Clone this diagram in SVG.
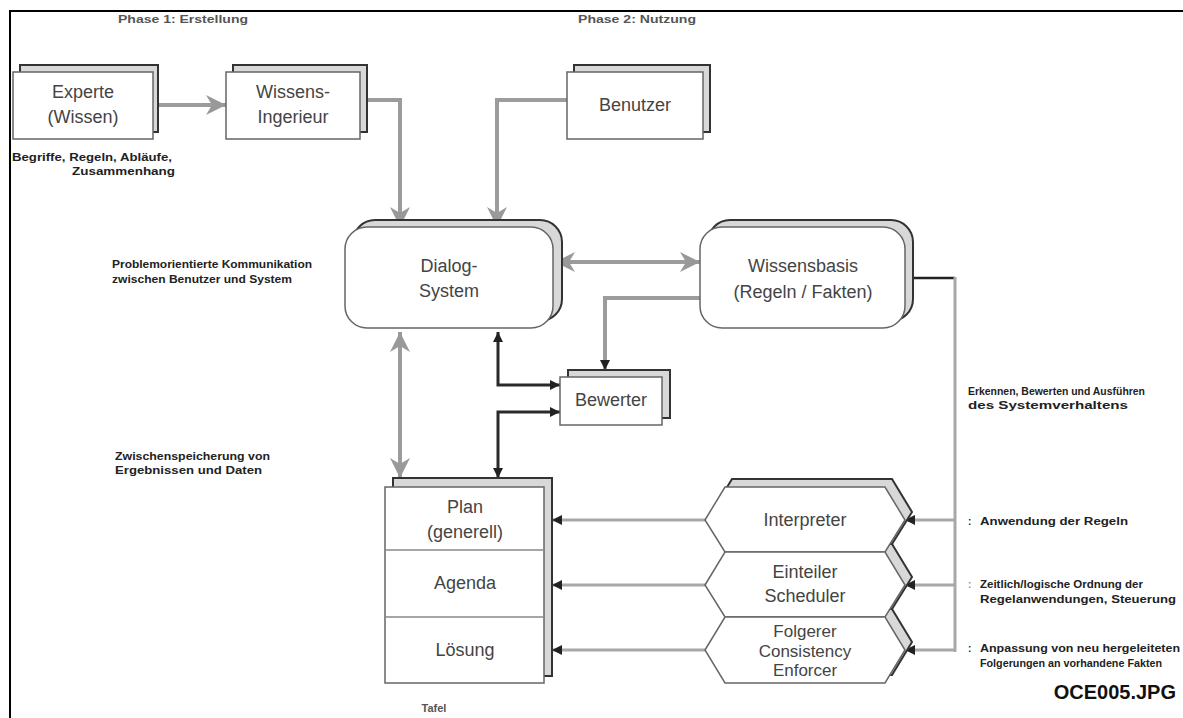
<svg xmlns="http://www.w3.org/2000/svg" width="1183" height="718" viewBox="0 0 1183 718">
<defs>
<style>
.back{fill:#d8d8d8;stroke:#333;stroke-width:2}
.front{fill:#fff;stroke:#666;stroke-width:1.5}
.lbl{font-family:"Liberation Sans",Arial,sans-serif;font-size:18px;fill:#444;text-anchor:middle}
.sm{font-family:"Liberation Sans",Arial,sans-serif;font-size:10px;font-weight:bold;fill:#222}
.g{fill:none;stroke:#9c9c9c;stroke-width:4}
.gt{fill:none;stroke:#a8a8a8;stroke-width:3}
.d{fill:none;stroke:#2a2a2a;stroke-width:3}
</style>
<marker id="ga" markerUnits="userSpaceOnUse" markerWidth="22" markerHeight="20" refX="20" refY="10" orient="auto-start-reverse"><path d="M0,0 L20,10 L0,20 L6,10 z" fill="#999"/></marker>
<marker id="da" markerUnits="userSpaceOnUse" markerWidth="11" markerHeight="10" refX="10" refY="5" orient="auto-start-reverse"><path d="M0,0 L10,5 L0,10 z" fill="#222"/></marker>
</defs>
<rect width="1183" height="718" fill="#fff"/>
<g id="frame">
<line x1="9" y1="11" x2="1183" y2="11" stroke="#000" stroke-width="2"/>
<line x1="10" y1="10" x2="10" y2="718" stroke="#000" stroke-width="2"/>
</g>
<g id="connectors">
<line class="g" x1="153" y1="105" x2="226" y2="105" marker-end="url(#ga)"/>
<path class="g" d="M360,100 H400 V227" marker-end="url(#ga)"/>
<path class="g" d="M567,100 H497 V227" marker-end="url(#ga)"/>
<line class="g" x1="555" y1="262" x2="700" y2="262" marker-start="url(#ga)" marker-end="url(#ga)"/>
<path class="g" d="M700,298 H605 V370" marker-end="url(#da)"/>
<line class="g" x1="400" y1="332" x2="400" y2="478" marker-start="url(#ga)" marker-end="url(#ga)"/>
<path class="d" d="M498,332 V385 H560" marker-start="url(#da)" marker-end="url(#da)"/>
<path class="d" d="M498,478 V412 H560" marker-start="url(#da)" marker-end="url(#da)"/>
<line x1="912" y1="278" x2="955" y2="278" stroke="#222" stroke-width="2.5"/>
<line class="gt" x1="955" y1="277" x2="955" y2="652"/>
<line class="gt" x1="955" y1="520" x2="905" y2="520" marker-end="url(#da)"/>
<line class="gt" x1="955" y1="585" x2="905" y2="585" marker-end="url(#da)"/>
<line class="gt" x1="955" y1="650" x2="905" y2="650" marker-end="url(#da)"/>
<line class="gt" x1="705" y1="520" x2="552" y2="520" marker-end="url(#da)"/>
<line class="gt" x1="705" y1="585" x2="552" y2="585" marker-end="url(#da)"/>
<line class="gt" x1="705" y1="650" x2="552" y2="650" marker-end="url(#da)"/>
</g>
<g id="experte">
<rect class="back" x="20" y="65" width="138" height="67"/>
<rect class="front" x="13" y="72" width="140" height="67"/>
<text class="lbl" x="83" y="98">Experte</text>
<text class="lbl" x="83" y="123">(Wissen)</text>
</g>
<g id="wissens-ingenieur">
<rect class="back" x="233" y="65" width="134" height="67"/>
<rect class="front" x="226" y="72" width="134" height="67"/>
<text class="lbl" x="293" y="98">Wissens-</text>
<text class="lbl" x="293" y="123">Ingerieur</text>
</g>
<g id="benutzer">
<rect class="back" x="574" y="65" width="136" height="67"/>
<rect class="front" x="567" y="72" width="136" height="67"/>
<text class="lbl" x="635" y="111">Benutzer</text>
</g>
<g id="dialog-system">
<rect class="back" x="353" y="220" width="209" height="101" rx="22"/>
<rect class="front" x="345" y="227" width="208" height="101" rx="22"/>
<text class="lbl" x="449" y="272">Dialog-</text>
<text class="lbl" x="449" y="297">System</text>
</g>
<g id="wissensbasis">
<rect class="back" x="708" y="220" width="205" height="101" rx="22"/>
<rect class="front" x="700" y="227" width="205" height="101" rx="22"/>
<text class="lbl" x="803" y="272">Wissensbasis</text>
<text class="lbl" x="803" y="298">(Regeln / Fakten)</text>
</g>
<g id="bewerter">
<rect class="back" x="568" y="370" width="102" height="48"/>
<rect class="front" x="560" y="377" width="102" height="48"/>
<text class="lbl" x="611" y="406">Bewerter</text>
</g>
<g id="tafel">
<rect class="back" x="393" y="478" width="159" height="198"/>
<rect class="front" x="385" y="487" width="159" height="196"/>
<line x1="385" y1="550" x2="544" y2="550" stroke="#888" stroke-width="1.5"/>
<line x1="385" y1="617" x2="544" y2="617" stroke="#888" stroke-width="1.5"/>
<text class="lbl" x="465" y="513">Plan</text>
<text class="lbl" x="465" y="538">(generell)</text>
<text class="lbl" x="465" y="589">Agenda</text>
<text class="lbl" x="465" y="656">Lösung</text>
<text class="sm" x="434" y="712" text-anchor="middle" style="font-size:11px;fill:#555">Tafel</text>
</g>
<g id="hex-backs">
<path class="back" d="M712,512 L732,479 L892,479 L912,512 L892,544 L732,544 Z"/>
<path class="back" d="M712,577 L732,544 L892,544 L912,577 L892,609 L732,609 Z"/>
<path class="back" d="M712,642 L732,609 L892,609 L912,642 L892,675 L732,675 Z"/>
</g>
<g id="interpreter">
<path class="front" d="M705,520 L725,487 L885,487 L905,520 L885,552 L725,552 Z"/>
<text class="lbl" x="805" y="526">Interpreter</text>
</g>
<g id="einteiler">
<path class="front" d="M705,585 L725,552 L885,552 L905,585 L885,617 L725,617 Z"/>
<text class="lbl" x="805" y="578">Einteiler</text>
<text class="lbl" x="805" y="602">Scheduler</text>
</g>
<g id="folgerer">
<path class="front" d="M705,650 L725,617 L885,617 L905,650 L885,683 L725,683 Z"/>
<text class="lbl" x="805" y="637" style="font-size:17px">Folgerer</text>
<text class="lbl" x="805" y="657" style="font-size:17px">Consistency</text>
<text class="lbl" x="805" y="676" style="font-size:17px">Enforcer</text>
</g>
<g id="notes">
<text class="sm" x="118" y="23" textLength="130" lengthAdjust="spacingAndGlyphs" style="fill:#555">Phase 1: Erstellung</text>
<text class="sm" x="578" y="23" textLength="118" lengthAdjust="spacingAndGlyphs" style="fill:#555">Phase 2: Nutzung</text>
<text class="sm" x="12" y="161" textLength="160" lengthAdjust="spacingAndGlyphs">Begriffe, Regeln, Abläufe,</text>
<text class="sm" x="72" y="175" textLength="103" lengthAdjust="spacingAndGlyphs">Zusammenhang</text>
<text class="sm" x="112" y="268" textLength="200" lengthAdjust="spacingAndGlyphs">Problemorientierte Kommunikation</text>
<text class="sm" x="112" y="283" textLength="180" lengthAdjust="spacingAndGlyphs">zwischen Benutzer und System</text>
<text class="sm" x="115" y="460" textLength="155" lengthAdjust="spacingAndGlyphs">Zwischenspeicherung von</text>
<text class="sm" x="115" y="474" textLength="147" lengthAdjust="spacingAndGlyphs">Ergebnissen und Daten</text>
<text class="sm" x="968" y="395" textLength="177" lengthAdjust="spacingAndGlyphs">Erkennen, Bewerten und Ausführen</text>
<text class="sm" x="968" y="409" textLength="160" lengthAdjust="spacingAndGlyphs">des Systemverhaltens</text>
<text class="sm" x="968" y="525">:</text>
<text class="sm" x="980" y="525" textLength="148" lengthAdjust="spacingAndGlyphs">Anwendung der Regeln</text>
<text class="sm" x="968" y="588" style="fill:#888">:</text>
<text class="sm" x="980" y="588" textLength="163" lengthAdjust="spacingAndGlyphs">Zeitlich/logische Ordnung der</text>
<text class="sm" x="980" y="603" textLength="196" lengthAdjust="spacingAndGlyphs">Regelanwendungen, Steuerung</text>
<text class="sm" x="968" y="652">:</text>
<text class="sm" x="980" y="652" textLength="200" lengthAdjust="spacingAndGlyphs">Anpassung von neu hergeleiteten</text>
<text class="sm" x="980" y="667" textLength="182" lengthAdjust="spacingAndGlyphs">Folgerungen an vorhandene Fakten</text>
<text x="1176" y="699" text-anchor="end" style="font-family:'Liberation Sans',Arial,sans-serif;font-size:20px;font-weight:bold;fill:#111">OCE005.JPG</text>
</g>
</svg>
